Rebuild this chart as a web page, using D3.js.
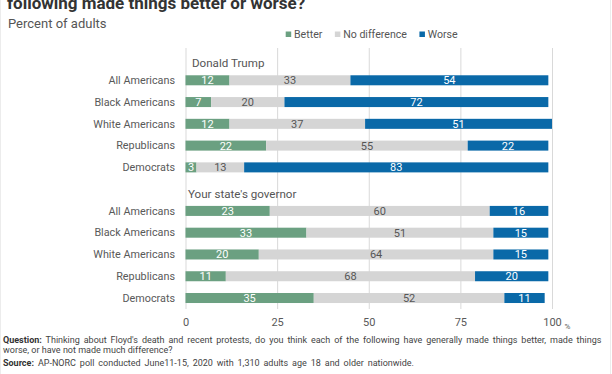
<!DOCTYPE html>
<html>
<head>
<meta charset="utf-8">
<script src="https://cdn.jsdelivr.net/npm/d3@7"></script>
<style>
  body { margin: 0; background: #fff; }
  svg { display: block; font-family: Roboto, "Noto Sans", sans-serif; }
</style>
</head>
<body>
<div id="chart"></div>
<script>
// données du graphique
const groupes = ["All Americans", "Black Americans", "White Americans", "Republicans", "Democrats"];
const series = ["Better", "No difference", "Worse"];
const couleurs = ["#6ba081", "#d5d5d5", "#0a69a8"];

const trumpBetter = [12, 7, 12, 22, 3];
const trumpNoDiff = [33, 20, 37, 55, 13];
const trumpWorse = [54, 72, 51, 22, 83];

const govBetter = [23, 33, 20, 11, 35];
const govNoDiff = [60, 51, 64, 68, 52];
const govWorse = [16, 15, 15, 20, 11];

const entetes = ["Donald Trump", "Your state's governor"];
const ticks = [0, 25, 50, 75, 100];

const largeur = 612, hauteur = 374;

const svg = d3.select("#chart").append("svg")
  .attr("width", largeur)
  .attr("height", hauteur);

// lignes de bord très claires
svg.append("line").attr("x1", 0.5).attr("x2", 0.5).attr("y1", 0).attr("y2", hauteur)
  .attr("stroke", "#ececec");
svg.append("line").attr("x1", 610.5).attr("x2", 610.5).attr("y1", 0).attr("y2", hauteur)
  .attr("stroke", "#ececec");

// titre (la première ligne est coupée dans l'image)
svg.append("text").attr("x", 7).attr("y", 9)
  .attr("font-size", 17).attr("font-weight", "bold").attr("fill", "#333")
  .text("following made things better or worse?");
svg.append("text").attr("x", 8).attr("y", 27.5)
  .attr("font-size", 13).attr("fill", "#555")
  .text("Percent of adults");

// lignes : groupe trump, ligne vide, groupe gouverneur
const lignes = [];
groupes.forEach((g, i) => lignes.push({ id: "t" + i, nom: g, vals: [trumpBetter[i], trumpNoDiff[i], trumpWorse[i]] }));
lignes.push({ id: "vide", nom: "", vals: [] });
groupes.forEach((g, i) => lignes.push({ id: "g" + i, nom: g, vals: [govBetter[i], govNoDiff[i], govWorse[i]] }));

const x = d3.scaleLinear().domain([0, 100]).range([185.5, 552]);
const y = d3.scaleBand()
  .domain(lignes.map(d => d.id))
  .range([69.4, 308.9])
  .paddingInner(0.54)
  .paddingOuter(0.27);

// grille
svg.append("g")
  .selectAll("line")
  .data(ticks)
  .join("line")
  .attr("x1", d => x(d) + 0.5).attr("x2", d => x(d) + 0.5)
  .attr("y1", 48).attr("y2", 309)
  .attr("stroke", "#d9d9d9");

// axe x (sans trait)
const axe = svg.append("g")
  .attr("transform", "translate(0,314)")
  .call(d3.axisBottom(x).tickValues(ticks).tickSize(0).tickPadding(4));
axe.select(".domain").remove();
axe.selectAll("text").attr("font-size", 11).attr("fill", "#595959")
  .attr("font-family", "Roboto, sans-serif");
svg.append("text").attr("x", 564.5).attr("y", 329)
  .attr("font-size", 8).attr("fill", "#595959").text("%");

// étiquettes des catégories
svg.append("g")
  .selectAll("text")
  .data(lignes.filter(d => d.nom))
  .join("text")
  .attr("x", 175)
  .attr("y", d => y(d.id) + y.bandwidth() / 2)
  .attr("dy", "0.35em")
  .attr("text-anchor", "end")
  .attr("font-size", 10.8)
  .attr("fill", "#595959")
  .text(d => d.nom);

// en-têtes des groupes
svg.append("text").attr("x", 192).attr("y", y("t0") - 8.5)
  .attr("font-size", 11.6).attr("fill", "#555").text(entetes[0]);
svg.append("text").attr("x", 188).attr("y", y("vide") + y.bandwidth() + 4)
  .attr("font-size", 11.6).attr("fill", "#555").text(entetes[1]);

// barres empilées
const segments = [];
lignes.forEach(l => {
  let cumul = 0;
  l.vals.forEach((v, k) => {
    segments.push({ id: l.id, x0: cumul, x1: cumul + v, v: v, k: k });
    cumul += v;
  });
});

svg.append("g")
  .selectAll("rect")
  .data(segments)
  .join("rect")
  .attr("x", d => x(d.x0))
  .attr("y", d => y(d.id))
  .attr("width", d => x(d.x1) - x(d.x0))
  .attr("height", y.bandwidth())
  .attr("fill", d => couleurs[d.k]);

svg.append("g")
  .selectAll("text")
  .data(segments)
  .join("text")
  .attr("x", d => (x(d.x0) + x(d.x1)) / 2)
  .attr("y", d => y(d.id) + y.bandwidth() / 2)
  .attr("dy", "0.36em")
  .attr("text-anchor", "middle")
  .attr("font-size", 11)
  .attr("fill", d => d.k == 1 ? "#555" : "#fff")
  .text(d => d.v);

// légende
let lx = 285.7;
series.forEach((s, k) => {
  svg.append("rect").attr("x", lx).attr("y", 31.5).attr("width", 5.5).attr("height", 5.5)
    .attr("fill", couleurs[k]);
  const t = svg.append("text").attr("x", lx + 8.3).attr("y", 34.3).attr("dy", "0.35em")
    .attr("font-size", 10.6).attr("fill", "#555").text(s);
  lx += 8.3 + t.node().getComputedTextLength() + 12.5;
});

// notes en bas
const note = svg.append("g").attr("font-size", 9).attr("fill", "#444");
const l1 = note.append("text").attr("x", 3).attr("y", 343);
l1.append("tspan").attr("font-weight", "bold").attr("fill", "#333").text("Question:");
l1.append("tspan").text(" Thinking about Floyd's death and recent protests, do you think each of the following have generally made things better, made things");
// ligne justifiée
const w1 = l1.node().getComputedTextLength();
const nEspaces = 22;
l1.attr("word-spacing", Math.max(0, (600 - w1) / nEspaces));
note.append("text").attr("x", 3).attr("y", 352.5)
  .text("worse, or have not made much difference?");
const l3 = note.append("text").attr("x", 3).attr("y", 366);
l3.append("tspan").attr("font-weight", "bold").attr("fill", "#333").text("Source:");
l3.append("tspan").text(" AP-NORC poll conducted June11-15, 2020 with 1,310 adults age 18 and older nationwide.");
const w3 = l3.node().getComputedTextLength();
l3.attr("word-spacing", Math.max(0, (411 - w3) / 13));
</script>
</body>
</html>
